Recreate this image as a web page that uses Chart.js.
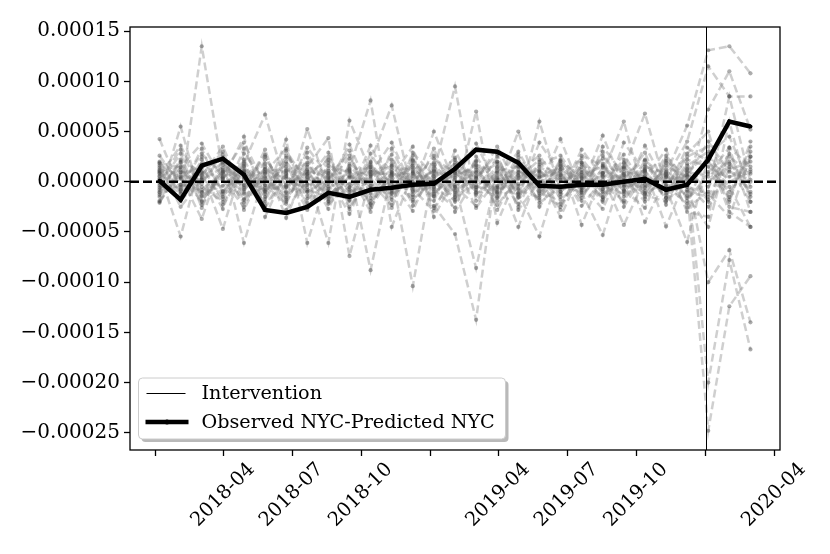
<!DOCTYPE html>
<html>
<head>
<meta charset="utf-8">
<script src="https://cdn.jsdelivr.net/npm/chart.js@4.4.1/dist/chart.umd.min.js"></script>
<style>
  html, body { margin: 0; padding: 0; background: #fff; }
  #wrap { width: 830px; height: 554px; }
</style>
</head>
<body>
<div id="wrap"><canvas id="chart" width="830" height="554"></canvas></div>
<script>
// 28-day periods
const periods = [
  '2018-01-06', '2018-02-03', '2018-03-03', '2018-03-31', '2018-04-28', '2018-05-26',
  '2018-06-23', '2018-07-21', '2018-08-18', '2018-09-15', '2018-10-13', '2018-11-10',
  '2018-12-08', '2019-01-05', '2019-02-02', '2019-03-02', '2019-03-30', '2019-04-27',
  '2019-05-25', '2019-06-22', '2019-07-20', '2019-08-17', '2019-09-14', '2019-10-12',
  '2019-11-09', '2019-12-07', '2020-01-04', '2020-02-01', '2020-02-29'
];

// values below are in units of 1e-5
const UNIT = 1e-5;

const observedMinusPredicted = [
  0.1, -1.8, 1.6, 2.3, 0.7, -2.8, -3.1, -2.5, -1.1, -1.5, -0.8, -0.6, -0.3, -0.2, 1.3,
  3.2, 3.0, 1.9, -0.4, -0.5, -0.3, -0.3, 0.0, 0.3, -0.8, -0.3, 2.2, 6.0, 5.5
];

const placebo01 = [2.0, -1.2, 13.5, 1.0, -2.1, 0.8, 1.5, -0.6, 1.9, -1.3, 0.7, 2.2, -0.5, 1.1, -0.9, 0.6, 1.8, -1.2, 0.4, 1.6, -0.8, 0.9, 1.4, -0.3, 0.8, 5.6, 13.1, 13.5, 10.8];
const placebo02 = [-1.5, 5.5, -2.0, 1.2, 0.5, -1.0, 2.0, -0.8, -1.5, 1.0, -2.2, 0.8, -10.4, 1.5, -0.5, 2.1, -1.0, 0.6, -1.8, 1.2, 0.4, -1.5, 0.8, 1.1, -1.6, -0.8, -24.8, -12.4, -9.4];
const placebo03 = [0.8, -5.45, 2.5, -1.0, 1.8, 6.7, -0.5, 1.2, -2.0, 0.6, 1.5, -1.1, 0.9, -2.4, -5.2, -13.75, 2.0, -1.5, 1.1, -0.7, 1.9, -0.4, -1.2, 2.1, 0.5, -1.4, -4.5, 3.4, 1.5];
const placebo04 = [1.2, 0.5, -3.7, 2.4, -6.1, 1.0, -1.8, 5.25, -0.7, 1.3, -8.8, 0.9, 1.6, -1.2, 0.8, -0.5, 1.4, -2.2, 6.0, -1.0, 0.7, 1.5, -0.9, 0.6, -1.3, 0.9, -20.0, -7.8, -16.7];
const placebo05 = [4.25, -0.8, 1.0, -4.7, 2.2, -1.5, 4.2, -6.1, 0.9, -1.9, 2.0, 7.6, -1.3, 0.5, 1.7, -1.1, -0.6, 5.0, -1.4, 2.0, -4.3, 0.8, 6.0, -1.7, 1.0, -0.5, 7.2, 11.0, 5.2];
const placebo06 = [-0.6, 1.9, -1.4, 0.3, 4.5, -3.5, 1.1, 0.8, -6.1, 6.1, 1.0, -0.8, 2.1, -0.6, -1.8, 7.0, -4.1, 0.9, 0.6, -3.5, 1.2, -0.7, 1.9, -4.0, 0.4, 4.0, 11.5, 8.5, 8.5];
const placebo07 = [0.3, -1.6, 2.2, -0.9, 0.4, 1.8, -3.6, 1.5, 4.35, -7.4, 0.5, 1.6, -0.9, 5.0, -0.3, -8.6, 1.0, -1.1, -5.45, 1.5, -0.6, 4.6, -0.5, 1.2, -4.45, 0.6, -10.0, -6.8, -14.0];
const placebo08 = [-1.9, 1.0, 0.6, 3.5, -1.2, -0.6, 1.8, -2.4, 0.5, 1.2, 8.1, -4.5, 0.8, -1.4, 1.2, 0.9, -1.5, 2.1, -0.5, 4.25, -1.1, -5.3, 1.3, 6.8, -0.6, -6.0, 2.5, -3.0, -4.5];
const placebo09 = [1.6, -2.5, 0.2, 1.4, -0.6, 2.5, -1.0, -0.3, 1.1, -0.8, -1.6, 0.5, 3.5, -3.5, 0.4, 1.7, 0.9, -4.5, 1.0, -1.2, 3.2, 0.5, -4.3, 0.3, 3.2, -1.9, 0.8, 3.4, -3.0];
const placebo10 = [0.5, 1.2, -1.1, -0.4, 1.5, -0.9, 0.6, 1.9, -1.3, 0.4, 1.2, -1.5, 0.6, 1.9, -1.1, 0.3, -0.8, 1.2, -0.3, 0.7, -1.6, 1.4, 0.2, -1.1, 1.6, 0.5, 4.0, 1.0, 0.2];
const placebo11 = [-1.1, 0.4, 1.8, -2.3, 0.9, 0.5, -1.6, 0.7, 2.2, -1.0, -0.4, 1.2, -1.8, 0.3, 2.4, -1.3, 0.6, -0.7, 1.5, 0.2, 0.9, -1.8, 1.0, 0.5, -0.8, 1.3, -2.0, 1.8, -1.2];
const placebo12 = [2.6, -0.3, -0.8, 0.9, -1.7, 1.2, 0.3, -1.4, 0.8, 2.6, -1.9, 0.2, 1.4, -0.8, -2.6, 2.5, -0.4, 0.7, -1.0, 1.8, -0.2, 0.6, -1.5, 1.7, -0.3, 2.2, 1.5, -1.0, 2.5];
const placebo13 = [-0.2, 2.8, -2.6, 1.7, 0.2, -2.0, 2.6, 0.4, -0.5, -1.8, 2.8, -0.6, 0.3, 1.0, 9.5, -1.9, 1.1, 1.5, -2.1, -0.6, 1.5, -1.0, 0.6, -2.0, 1.9, -3.0, -3.5, 6.0, -2.0];
const placebo14 = [0.9, -0.9, 3.3, -1.5, 1.1, -0.3, -2.2, 2.4, -1.9, 1.6, -0.7, 2.7, -2.4, 0.8, 1.0, 0.5, -2.3, 0.3, 2.2, -1.8, 0.1, 2.3, -2.5, 0.9, -1.6, 2.8, 5.0, -1.8, 3.5];
const placebo15 = [-0.8, 2.2, 0.9, -2.7, 2.8, 0.1, 1.2, -1.0, 0.2, 3.1, -2.6, 0.7, 1.0, -1.9, 3.1, -0.8, 2.5, -1.6, 0.5, 1.0, -2.4, 0.2, 2.7, -0.6, 0.7, -1.0, -1.5, 2.5, 0.8];
const placebo16 = [1.4, 0.7, -0.2, 2.7, -2.8, 1.5, -0.6, 2.9, -1.1, -0.2, 1.9, -2.6, 2.2, -0.1, -1.5, 1.2, -1.2, 2.7, -0.9, -2.5, 1.7, -1.2, 0.1, 2.9, -2.3, 1.0, 0.5, 2.0, -1.0];
const placebo17 = [-1.3, -0.3, 2.8, 0.6, -1.0, 3.2, -2.8, 0.2, 2.9, -2.5, 0.6, 1.8, -0.2, 2.6, -0.7, 2.0, -2.8, 1.0, 2.6, -0.4, -1.0, 3.0, -0.8, -2.6, 2.3, -0.2, -2.5, 1.2, 2.0];
const placebo18 = [0.2, 3.2, -1.0, 0.4, 2.0, -2.4, 0.8, -2.1, 1.6, 0.9, -3.0, 3.3, -1.0, -0.5, 1.9, -2.6, 0.3, -0.2, 1.7, 2.6, -0.4, -2.7, 1.8, 0.0, -0.9, 3.4, 2.0, -0.5, -4.5];
const placebo19 = [-2.0, 0.9, 1.3, -1.7, 3.3, -1.2, 2.4, 0.8, -2.7, 1.8, 0.3, -1.8, 2.6, -2.6, 0.6, 1.6, -1.9, 2.4, -2.5, 0.6, 2.3, -0.3, -1.9, 1.5, 0.9, -2.6, -1.0, 8.5, 0.0];
const placebo20 = [1.0, -1.9, 0.4, 1.9, -0.3, 2.7, -1.4, 1.1, 0.4, -3.2, 1.4, 0.0, -2.9, 1.7, -3.0, 0.4, 2.8, -2.8, 0.0, -1.5, 2.6, 1.6, -0.2, -1.3, -2.0, 1.6, 3.0, -2.5, -3.0];
const placebo21 = [1.8, 0.3, -1.9, 0.8, 3.9, -0.4, -1.1, 3.4, 0.6, -1.4, 3.6, -0.9, 1.8, -1.0, 0.2, 3.8, -0.5, -1.3, 3.9, 0.8, -1.9, 3.5, 0.7, -0.9, 2.6, 0.2, 1.0, -1.5, 3.0];
const placebo22 = [-0.4, -1.0, 0.7, 3.0, -1.8, 0.9, 3.3, -1.7, -0.2, 3.7, -1.2, 1.5, -1.5, 3.3, -1.6, 0.0, 3.5, -0.8, -1.6, 2.1, 0.5, -2.0, 3.9, 1.0, -1.1, 1.8, -1.8, 0.5, 1.2];
const placebo23 = [0.6, 3.6, -0.5, -2.0, 1.0, -1.7, 3.1, -0.2, 1.3, -2.7, 0.8, 3.9, -0.7, -2.9, 1.4, -1.0, 0.4, 3.0, -0.6, -2.2, 0.3, 1.8, -1.0, 3.6, -0.4, -2.2, 2.8, 4.5, -0.5];
const placebo24 = [-2.1, 1.5, 3.8, 0.2, -2.5, 2.2, -0.3, 1.0, -1.7, 0.5, -0.1, -2.3, 2.9, 0.6, -2.0, 1.0, 2.0, -0.4, 0.9, -2.8, 1.9, -0.8, 1.5, -1.5, 2.1, -0.5, -1.2, -3.5, 2.5];
const placebo25 = [1.1, -0.5, 0.3, -1.2, 1.6, -2.6, 0.5, -1.0, 2.5, -0.6, 1.7, -0.3, -0.4, 1.2, -0.5, -2.4, 1.5, -2.5, 2.0, 0.4, -1.3, 0.9, -2.1, 1.3, 0.6, 2.5, 3.5, -2.0, 4.0];
const placebo26 = [-1.0, 2.0, -2.3, 1.1, -0.4, 0.4, -2.0, 1.7, -0.9, 1.1, -2.3, 1.0, 0.0, -1.5, 2.2, -0.3, -1.6, 1.9, -0.2, 1.3, -0.9, 2.6, -0.4, -0.5, 1.2, -1.6, 0.0, 1.5, -2.0];
const placebo27 = [0.0, -0.7, 1.5, 2.0, -0.8, 1.3, 0.9, -2.8, 0.3, 2.3, -0.6, -1.2, 1.2, 0.1, -1.3, 1.4, -1.1, 0.4, 1.2, -1.0, 1.0, -1.6, 0.4, 2.2, -1.9, 1.2, 2.5, 0.0, 1.0];
const placebo28 = [1.9, 1.4, -1.5, 0.5, 1.2, -0.8, -0.4, 0.5, -2.2, -0.5, 1.0, 0.6, -2.0, 2.3, 0.9, -0.6, 0.2, 1.6, -1.2, 2.2, -0.6, -0.2, 2.2, -1.2, 0.0, 0.7, -0.5, 2.8, -1.5];

const placebos = [
  placebo01, placebo02, placebo03, placebo04, placebo05, placebo06, placebo07,
  placebo08, placebo09, placebo10, placebo11, placebo12, placebo13, placebo14,
  placebo15, placebo16, placebo17, placebo18, placebo19, placebo20, placebo21,
  placebo22, placebo23, placebo24, placebo25, placebo26, placebo27, placebo28
];

const yTicks = [-0.00025, -0.0002, -0.00015, -0.0001, -0.00005, 0, 0.00005, 0.0001, 0.00015];
const yTickLabels = ['\u22120.00025', '\u22120.00020', '\u22120.00015', '\u22120.00010', '\u22120.00005',
  '0.00000', '0.00005', '0.00010', '0.00015'];

const xTickDates = ['2018-01-01', '2018-04-01', '2018-07-01', '2018-10-01', '2019-01-01',
  '2019-04-01', '2019-07-01', '2019-10-01', '2020-01-01', '2020-04-01'];
const xTickLabels = ['', '2018-04', '2018-07', '2018-10', '', '2019-04', '2019-07', '2019-10', '', '2020-04'];

const interventionDate = '2020-01-01';
const legendLabels = ['Intervention', 'Observed NYC-Predicted NYC'];

const FONT = "'DejaVu Serif', serif";
const day = s => Date.parse(s) / 864e5;
const xs = periods.map(day);
const toPoints = arr => arr.map((v, i) => ({ x: xs[i], y: v * UNIT }));

// matplotlib style 5% margins around data
const allY = placebos.flat().concat(observedMinusPredicted).map(v => v * UNIT);
const yLo = Math.min(...allY), yHi = Math.max(...allY);
const xLo = xs[0], xHi = xs[xs.length - 1];

const datasets = placebos.map(p => ({
  data: toPoints(p),
  showLine: true,
  borderColor: 'rgba(128,128,128,0.38)',
  borderWidth: 2.5,
  borderDash: [8, 4],
  pointRadius: 2.1,
  pointBackgroundColor: 'rgba(60,60,60,0.42)',
  pointBorderWidth: 0,
  order: 2
}));
const blackIndex = datasets.length;
datasets.push({
  data: toPoints(observedMinusPredicted),
  showLine: true,
  borderColor: '#000',
  borderWidth: 4.5,
  pointRadius: 2,
  pointBackgroundColor: '#000',
  pointBorderWidth: 0,
  order: 0
});

const decor = {
  id: 'decor',
  beforeDatasetDraw(chart, args) {
    if (args.index !== blackIndex) return;
    const { ctx, chartArea: a, scales: { y } } = chart;
    const py = y.getPixelForValue(0);
    ctx.save();
    ctx.strokeStyle = '#000';
    ctx.lineWidth = 2.5;
    ctx.setLineDash([9, 4]);
    ctx.beginPath();
    ctx.moveTo(a.left, py);
    ctx.lineTo(a.right, py);
    ctx.stroke();
    ctx.restore();
  },
  afterDatasetsDraw(chart) {
    const { ctx, chartArea: a, scales: { x } } = chart;
    const px = Math.round(x.getPixelForValue(day(interventionDate))) + 0.5;
    ctx.save();
    ctx.strokeStyle = '#000';
    ctx.lineWidth = 1;
    ctx.beginPath();
    ctx.moveTo(px, a.top);
    ctx.lineTo(px, a.bottom);
    ctx.stroke();
    // frame
    ctx.lineWidth = 1.3;
    ctx.strokeRect(a.left, a.top, a.right - a.left, a.bottom - a.top);
    ctx.restore();
  },
  afterDraw(chart) {
    const { ctx, chartArea: a } = chart;
    const bx = a.left + 8.5, by = a.bottom - 72, bw = 367, bh = 61, r = 4;
    const rr = (x, y, w, h) => {
      ctx.beginPath();
      ctx.moveTo(x + r, y);
      ctx.arcTo(x + w, y, x + w, y + h, r);
      ctx.arcTo(x + w, y + h, x, y + h, r);
      ctx.arcTo(x, y + h, x, y, r);
      ctx.arcTo(x, y, x + w, y, r);
      ctx.closePath();
    };
    ctx.save();
    rr(bx + 3, by + 3, bw, bh);
    ctx.fillStyle = 'rgba(128,128,128,0.55)';
    ctx.fill();
    rr(bx, by, bw, bh);
    ctx.fillStyle = '#fff';
    ctx.fill();
    ctx.strokeStyle = '#cccccc';
    ctx.lineWidth = 1;
    ctx.stroke();

    const row1 = by + 15.5, row2 = by + 44;
    ctx.strokeStyle = '#000';
    ctx.lineWidth = 1;
    ctx.beginPath();
    ctx.moveTo(bx + 8, row1);
    ctx.lineTo(bx + 47, row1);
    ctx.stroke();
    ctx.lineWidth = 4.5;
    ctx.beginPath();
    ctx.moveTo(bx + 7, row2);
    ctx.lineTo(bx + 50, row2);
    ctx.stroke();
    ctx.fillStyle = '#000';
    ctx.beginPath();
    ctx.arc(bx + 28.5, row2, 2.5, 0, Math.PI * 2);
    ctx.fill();

    ctx.font = '19.2px ' + FONT;
    ctx.textBaseline = 'middle';
    ctx.fillText(legendLabels[0], bx + 63, row1 + 1);
    ctx.fillText(legendLabels[1], bx + 63, row2 + 1);
    ctx.restore();
  }
};

new Chart(document.getElementById('chart'), {
  type: 'scatter',
  data: { datasets },
  options: {
    responsive: false,
    animation: false,
    events: [],
    layout: { padding: { top: 27, right: 50, left: 0, bottom: 0 } },
    plugins: { legend: { display: false }, tooltip: { enabled: false } },
    scales: {
      x: {
        type: 'linear',
        min: xLo - 0.05 * (xHi - xLo),
        max: xHi + 0.05 * (xHi - xLo),
        border: { display: false },
        grid: { drawOnChartArea: false, drawTicks: true, tickLength: 6, tickWidth: 1.3, tickColor: '#000' },
        afterBuildTicks: s => { s.ticks = xTickDates.map(d => ({ value: day(d) })); },
        afterFit: s => { s.height = 104; },
        ticks: {
          autoSkip: false,
          minRotation: 45,
          maxRotation: 45,
          labelOffset: 28,
          padding: 2,
          color: '#000',
          font: { family: FONT, size: 19.5 },
          callback: (v, i) => xTickLabels[i]
        }
      },
      y: {
        type: 'linear',
        min: yLo - 0.05 * (yHi - yLo),
        max: yHi + 0.05 * (yHi - yLo),
        border: { display: false },
        grid: { drawOnChartArea: false, drawTicks: true, tickLength: 6, tickWidth: 1.3, tickColor: '#000' },
        afterBuildTicks: s => { s.ticks = yTicks.map(v => ({ value: v })); },
        afterFit: s => { s.width = 130; },
        ticks: {
          padding: 4,
          color: '#000',
          font: { family: FONT, size: 20 },
          callback: (v, i) => yTickLabels[i]
        }
      }
    }
  },
  plugins: [decor]
});
</script>
</body>
</html>
